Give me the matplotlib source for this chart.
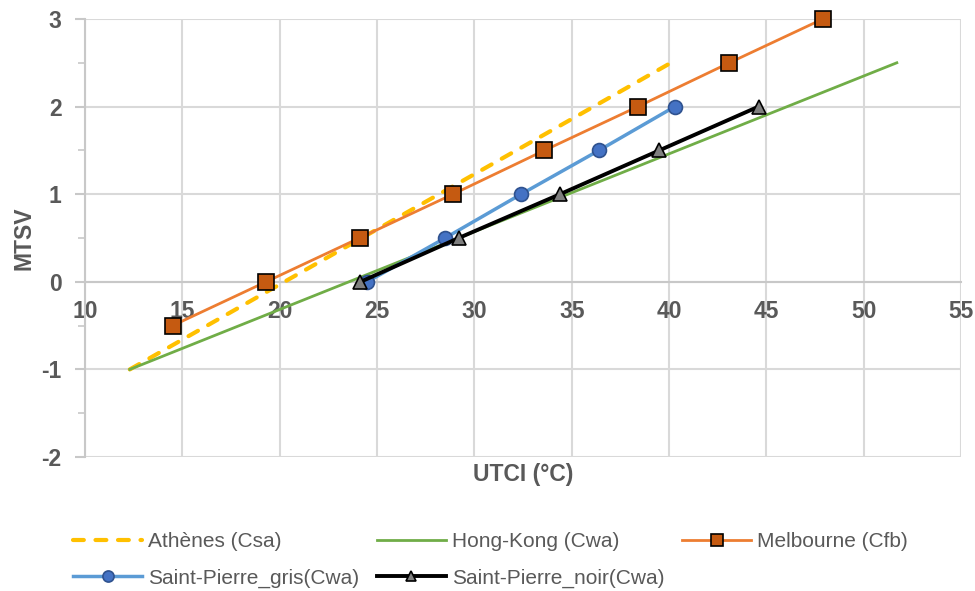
import numpy as np
import matplotlib.pyplot as plt
from matplotlib.ticker import MultipleLocator

plt.rcParams['font.family'] = ['Liberation Sans', 'DejaVu Sans']
plt.rcParams['axes.unicode_minus'] = False

# données
athenes_x = [12.3, 40.1]
athenes_y = [-1.0, 2.5]
hk_x = [12.3, 51.7]
hk_y = [-1.0, 2.5]
melb_x = [14.5, 19.3, 24.1, 28.9, 33.6, 38.4, 43.1, 47.9]
melb_y = [-0.5, 0, 0.5, 1, 1.5, 2, 2.5, 3]
gris_x = [24.5, 28.5, 32.4, 36.4, 40.3]
gris_y = [0, 0.5, 1, 1.5, 2]
noir_x = [24.15, 29.2, 34.4, 39.5, 44.6]
noir_y = [0, 0.5, 1, 1.5, 2]

xticks = [10, 15, 20, 25, 30, 35, 40, 45, 50, 55]
yticks = [-2, -1, 0, 1, 2, 3]

txt = '#595959'
grid = '#d9d9d9'

fig = plt.figure(figsize=(9.75, 5.91), dpi=100)
ax = fig.add_axes([0.0872, 0.2267, 0.8985, 0.7412])

l_ath, = ax.plot(athenes_x, athenes_y, color='#FFC000', lw=3.0, ls=(0, (2.6, 2.8)),
                 dash_capstyle='round', label='Athènes (Csa)', zorder=3)
l_hk, = ax.plot(hk_x, hk_y, color='#70AD47', lw=2, label='Hong-Kong (Cwa)', zorder=3)
l_mel, = ax.plot(melb_x, melb_y, color='#ED7D31', lw=2, marker='s', ms=11,
                 mfc='#C55A11', mec='black', mew=1.2, label='Melbourne (Cfb)',
                 zorder=4, clip_on=False)
l_gris, = ax.plot(gris_x, gris_y, color='#5B9BD5', lw=2.5, marker='o', ms=10,
                  mfc='#4472C4', mec='#2F528F', mew=1.2,
                  label='Saint-Pierre_gris(Cwa)', zorder=5)
l_noir, = ax.plot(noir_x, noir_y, color='black', lw=2.8, marker='^', ms=10,
                  mfc='#7F7F7F', mec='black', mew=1.2,
                  label='Saint-Pierre_noir(Cwa)', zorder=6)

ax.set_xlim(10, 55)
ax.set_ylim(-2, 3)
ax.set_xticks(xticks)
ax.set_yticks(yticks)
ax.yaxis.set_minor_locator(MultipleLocator(0.5))
ax.grid(True, which='major', color=grid, lw=1.5, zorder=0)
ax.set_axisbelow(True)

for s in ['top', 'right']:
    ax.spines[s].set_visible(False)
ax.spines['bottom'].set_position(('data', 0))
ax.spines['bottom'].set_color('#c8c8c8')
ax.spines['bottom'].set_linewidth(1.5)
ax.spines['left'].set_color('#c8c8c8')
ax.spines['left'].set_linewidth(1.5)

ax.tick_params(axis='x', length=0, pad=13, labelsize=16.5, labelcolor=txt)
ax.tick_params(axis='y', which='major', length=7, width=1.5, color='#c8c8c8',
               pad=10, labelsize=16.5, labelcolor=txt)
ax.tick_params(axis='y', which='minor', length=5, width=1.2, color='#c8c8c8')
for lab in ax.get_xticklabels() + ax.get_yticklabels():
    lab.set_fontweight('bold')

ax.set_ylabel('MTSV', fontsize=16.5, fontweight='bold', color=txt, labelpad=4)
fig.text(523 / 975, 1 - 475 / 591, 'UTCI (°C)', ha='center', va='center',
         fontsize=16.5, fontweight='bold', color=txt)

# ordre pour un remplissage par lignes (3 colonnes)
handles = [l_ath, l_gris, l_hk, l_noir, l_mel]
leg = fig.legend(handles=handles, labels=[h.get_label() for h in handles],
                 loc='upper left', bbox_to_anchor=(0.075, 0.100), ncol=3,
                 frameon=False, fontsize=15, handlelength=3.3,
                 handletextpad=0.3, columnspacing=0.85, labelspacing=0.84,
                 borderaxespad=0, borderpad=0)
for t in leg.get_texts():
    t.set_color(txt)
for h, ms in zip(leg.legend_handles, [0, 8, 0, 7, 8]):
    if ms:
        h.set_markersize(ms)

fig.savefig('out.png', dpi=100)
